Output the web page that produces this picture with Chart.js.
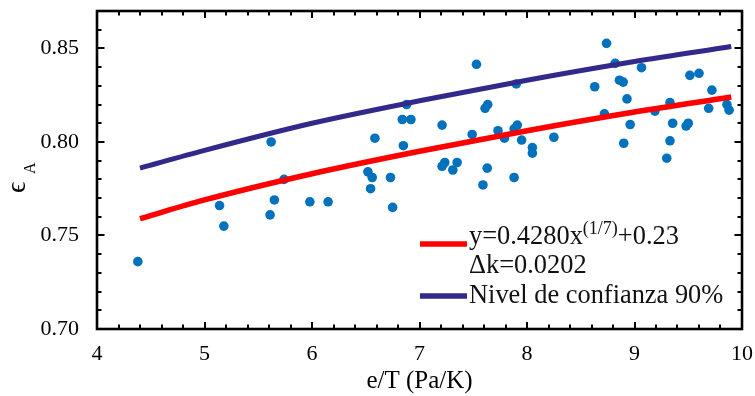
<!DOCTYPE html>
<html>
<head>
<meta charset="utf-8">
<script src="https://cdn.jsdelivr.net/npm/chart.js@4.4.1/dist/chart.umd.min.js"></script>
<style>
  html, body { margin: 0; padding: 0; background: #fff; }
  #wrap { width: 755px; height: 396px; position: relative; }
</style>
</head>
<body>
<div id="wrap"><canvas id="chart"></canvas></div>
<script>
// measured points (e/T, eps_A)
const obsX = [4.38, 5.14, 5.18, 5.61, 5.62, 5.65, 5.74, 5.98, 6.15, 6.52, 6.56, 6.545, 6.585, 6.73, 6.75,
  6.84, 6.85, 6.88, 6.92, 7.21, 7.21, 7.235, 7.31, 7.35, 7.49, 7.53, 7.59, 7.61, 7.635, 7.63,
  7.73, 7.79, 7.88, 7.91, 7.88, 7.90, 7.95, 8.05, 8.05, 8.25, 8.63, 8.72, 8.74, 8.82, 8.86,
  8.895, 8.90, 8.93, 8.96, 9.065, 9.19, 9.30, 9.33, 9.33, 9.355, 9.48, 9.50, 9.515, 9.60, 9.69,
  9.72, 9.86, 9.88];
const obsY = [0.736, 0.766, 0.755, 0.761, 0.800, 0.769, 0.780, 0.768, 0.768, 0.784, 0.781, 0.775, 0.802, 0.781, 0.765,
  0.812, 0.798, 0.820, 0.812, 0.809, 0.787, 0.789, 0.785, 0.789, 0.804, 0.8415, 0.777, 0.818, 0.820, 0.786,
  0.806, 0.802, 0.807, 0.809, 0.781, 0.831, 0.801, 0.797, 0.794, 0.8025, 0.8295, 0.815, 0.8527, 0.842, 0.833,
  0.832, 0.7993, 0.823, 0.8093, 0.8397, 0.8165, 0.7913, 0.821, 0.8006, 0.810, 0.8085, 0.810, 0.8356, 0.8367, 0.818,
  0.8277, 0.820, 0.817];

// fitted curve and 90% confidence curve
const fitX = [4.4, 5, 6, 7, 8, 9, 9.9];
const fitY = [0.759, 0.769, 0.783, 0.795, 0.806, 0.816, 0.824];
const confY = [0.786, 0.7955, 0.810, 0.822, 0.833, 0.843, 0.851];

const xTicks = [4, 5, 6, 7, 8, 9, 10];
const yTicks = [0.70, 0.75, 0.80, 0.85];

const legendFit = ['y=0.4280x', '(1/7)', '+0.23'];
const legendDk = '\u0394k=0.0202';
const legendConf = 'Nivel de confianza 90%';

const SERIF = '"Liberation Serif", "Times New Roman", serif';

const pts = obsX.map((x, i) => ({ x: x, y: obsY[i] }));
const fitPts = fitX.map((x, i) => ({ x: x, y: fitY[i] }));
const confPts = fitX.map((x, i) => ({ x: x, y: confY[i] }));

// frame with inward ticks on all four sides, legend and y title
const framePlugin = {
  id: 'frame',
  afterDraw(chart) {
    const ctx = chart.ctx;
    const a = chart.chartArea;
    const xs = chart.scales.x, ys = chart.scales.y;
    ctx.save();
    ctx.strokeStyle = '#000';
    ctx.lineWidth = 2;
    ctx.beginPath();
    for (let v = 4; v <= 10.001; v += 0.2) {
      const major = Math.abs(v - Math.round(v)) < 1e-6;
      const len = major ? 7 : 4.5;
      const px = Math.round(xs.getPixelForValue(v));
      ctx.moveTo(px, a.bottom); ctx.lineTo(px, a.bottom - len);
      ctx.moveTo(px, a.top); ctx.lineTo(px, a.top + len);
    }
    for (let k = 70; k <= 87; k++) {
      const major = k % 5 === 0;
      const len = major ? 7.5 : 4.5;
      const py = Math.round(ys.getPixelForValue(k / 100));
      ctx.moveTo(a.left, py); ctx.lineTo(a.left + len, py);
      ctx.moveTo(a.right, py); ctx.lineTo(a.right - len, py);
    }
    ctx.stroke();
    ctx.lineWidth = 2.6;
    ctx.strokeRect(a.left, a.top, a.right - a.left, a.bottom - a.top);

    // legend
    const lx = a.right - 322;
    ctx.lineWidth = 5.5;
    ctx.strokeStyle = '#ff0000';
    ctx.beginPath(); ctx.moveTo(lx, a.bottom - 85); ctx.lineTo(lx + 47, a.bottom - 85); ctx.stroke();
    ctx.strokeStyle = '#33298a';
    ctx.beginPath(); ctx.moveTo(lx, a.bottom - 33); ctx.lineTo(lx + 47, a.bottom - 33); ctx.stroke();

    ctx.fillStyle = '#111';
    ctx.textBaseline = 'alphabetic';
    ctx.textAlign = 'left';
    let tx = lx + 49;
    ctx.font = '26.4px ' + SERIF;
    ctx.fillText(legendFit[0], tx, a.bottom - 85.5);
    tx += ctx.measureText(legendFit[0]).width;
    ctx.font = '18px ' + SERIF;
    ctx.fillText(legendFit[1], tx, a.bottom - 95.5);
    tx += ctx.measureText(legendFit[1]).width;
    ctx.font = '26.4px ' + SERIF;
    ctx.fillText(legendFit[2], tx, a.bottom - 85.5);
    ctx.fillText(legendDk, lx + 49, a.bottom - 56.3);
    ctx.fillText(legendConf, lx + 49, a.bottom - 25.7);

    // y axis title: epsilon with subscript A
    ctx.translate(25, 193);
    ctx.rotate(-Math.PI / 2);
    ctx.fillStyle = '#000';
    ctx.font = '28px ' + SERIF;
    ctx.fillText('\u03f5', 0, 0);
    ctx.font = '16px ' + SERIF;
    ctx.fillText('A', 19, 10);
    ctx.restore();
  }
};

new Chart(document.getElementById('chart'), {
  type: 'scatter',
  data: {
    datasets: [
      {
        label: legendFit.join(''),
        data: fitPts,
        showLine: true,
        borderColor: '#ff0000',
        borderWidth: 5.5,
        pointRadius: 0,
        cubicInterpolationMode: 'monotone',
        order: 0
      },
      {
        label: legendConf,
        data: confPts,
        showLine: true,
        borderColor: '#33298a',
        borderWidth: 5,
        pointRadius: 0,
        cubicInterpolationMode: 'monotone',
        order: 0
      },
      {
        label: 'datos',
        data: pts,
        backgroundColor: '#0072bd',
        borderWidth: 0,
        pointRadius: 4.8,
        order: 1
      }
    ]
  },
  options: {
    responsive: true,
    maintainAspectRatio: false,
    animation: false,
    events: [],
    layout: { padding: { top: 11, right: 13, left: 0, bottom: 0 } },
    plugins: {
      legend: { display: false },
      tooltip: { enabled: false }
    },
    scales: {
      x: {
        type: 'linear',
        position: 'bottom',
        min: xTicks[0],
        max: xTicks[xTicks.length - 1],
        grid: { display: false, drawTicks: false, tickLength: 0 },
        border: { display: false },
        ticks: {
          stepSize: 1,
          maxRotation: 0,
          padding: 12,
          color: '#000',
          font: { family: SERIF, size: 22 },
          callback: v => xTicks.includes(v) ? String(v) : ''
        },
        title: {
          display: true,
          text: 'e/T (Pa/K)',
          color: '#000',
          font: { family: SERIF, size: 25 },
          padding: { top: 0, bottom: 0 }
        },
        afterFit(s) {
          s.height = 67;
          s.paddingLeft = 0; s.paddingRight = 0;
        }
      },
      y: {
        type: 'linear',
        min: 0.70,
        max: 0.87,
        grid: { display: false, drawTicks: false, tickLength: 0 },
        border: { display: false },
        ticks: {
          stepSize: 0.05,
          includeBounds: false,
          padding: 18,
          color: '#000',
          font: { family: SERIF, size: 22 },
          callback: v => yTicks.some(t => Math.abs(t - v) < 1e-6) ? v.toFixed(2) : ''
        },
        afterFit(s) {
          s.width = 97;
          s.paddingTop = 0; s.paddingBottom = 0;
        }
      }
    }
  },
  plugins: [framePlugin]
});
</script>
</body>
</html>
